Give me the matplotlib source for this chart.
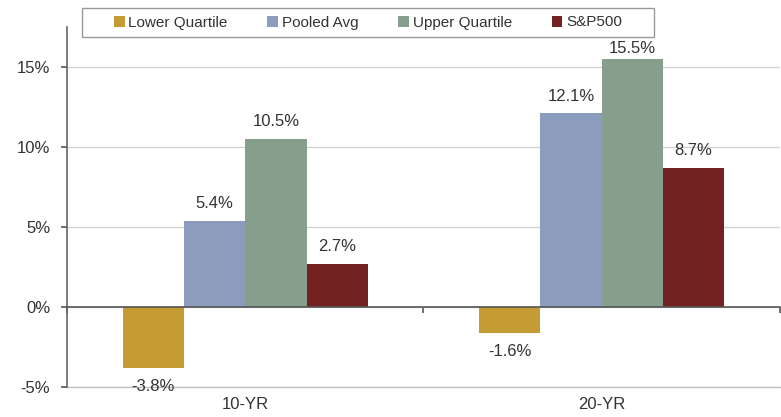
import matplotlib
matplotlib.use("Agg")
import matplotlib.pyplot as plt
import numpy as np
from matplotlib.transforms import blended_transform_factory
from matplotlib.patches import Rectangle

categories = ["10-YR", "20-YR"]
series = ["Lower Quartile", "Pooled Avg", "Upper Quartile", "S&P500"]
values = {
    "Lower Quartile": [-3.8, -1.6],
    "Pooled Avg": [5.4, 12.1],
    "Upper Quartile": [10.5, 15.5],
    "S&P500": [2.7, 8.7],
}
colors = ["#C49C33", "#8C9CBC", "#869E8C", "#722220"]
yticks = [-5, 0, 5, 10, 15]

plt.rcParams['font.family'] = ['Liberation Sans', 'DejaVu Sans']
TXT = "#333333"

fig = plt.figure(figsize=(7.81, 4.17), dpi=100)
ax = fig.add_axes([0.0858, 0.072, 0.9127, 0.863])
ymin, ymax = -5, 17.5

x = np.arange(len(categories))
w = 0.172
handles = []
for i, (s, c) in enumerate(zip(series, colors)):
    vals = values[s]
    pos = x + (i - 1.5) * w
    b = ax.bar(pos, vals, width=w, color=c, label=s, zorder=2)
    handles.append(b)
    for p, v in zip(pos, vals):
        if v >= 0:
            # shrink the gap when the label would run into the legend
            off = 7 if (ymax - v) > 2.5 else 2
            ax.annotate(f"{v:.1f}%", (p, v), xytext=(0, off), textcoords="offset points",
                        ha="center", va="bottom", fontsize=12, color=TXT)
        else:
            ax.annotate(f"{v:.1f}%", (p, v), xytext=(0, -8), textcoords="offset points",
                        ha="center", va="top", fontsize=12, color=TXT)

ax.set_xlim(-0.5, 1.5)
ax.set_ylim(ymin, ymax)
ax.set_yticks(yticks)
ax.set_yticklabels([f"{t}%" for t in yticks], fontsize=12, color=TXT)
ax.yaxis.grid(True, color="#D0D0D0", linewidth=0.9, zorder=0)
ax.set_axisbelow(True)

ax.spines['top'].set_visible(False)
ax.spines['right'].set_visible(False)
ax.spines['left'].set_color("#666666")
ax.spines['left'].set_linewidth(1.2)
ax.spines['bottom'].set_position(('data', 0))
ax.spines['bottom'].set_color("#555555")
ax.spines['bottom'].set_linewidth(1.2)
ax.spines['bottom'].set_zorder(3)
ax.set_xticks([-0.5, 0.5, 1.5])
ax.set_xticklabels([])
ax.tick_params(axis='x', direction='out', length=4, color="#555555", width=1.2)
ax.tick_params(axis='y', direction='out', length=4, color="#555555", width=1.2, pad=8)

ax.axhline(-5, color="#C0C0C0", linewidth=1, zorder=1, clip_on=False)

trans = blended_transform_factory(ax.transData, ax.transAxes)
for xi, cat in zip(x, categories):
    ax.annotate(cat, (xi, 0), xycoords=trans, xytext=(0, -7), textcoords="offset points",
                ha="center", va="top", fontsize=12, color=TXT)

# legend frame
fig.patches.append(Rectangle((82 / 781, 1 - 37 / 417), (654 - 82) / 781, 29 / 417,
                             transform=fig.transFigure, fill=False,
                             edgecolor="#999999", linewidth=1))
leg = fig.legend(handles=handles, labels=series, loc="center",
                 bbox_to_anchor=((82 + 654) / 2 / 781, 1 - 22.5 / 417),
                 ncol=4, fontsize=11, frameon=False,
                 handlelength=0.7, handleheight=0.7, handletextpad=0.25,
                 columnspacing=2.6, borderaxespad=0)
for t in leg.get_texts():
    t.set_color(TXT)

fig.savefig("out.png", dpi=100)
